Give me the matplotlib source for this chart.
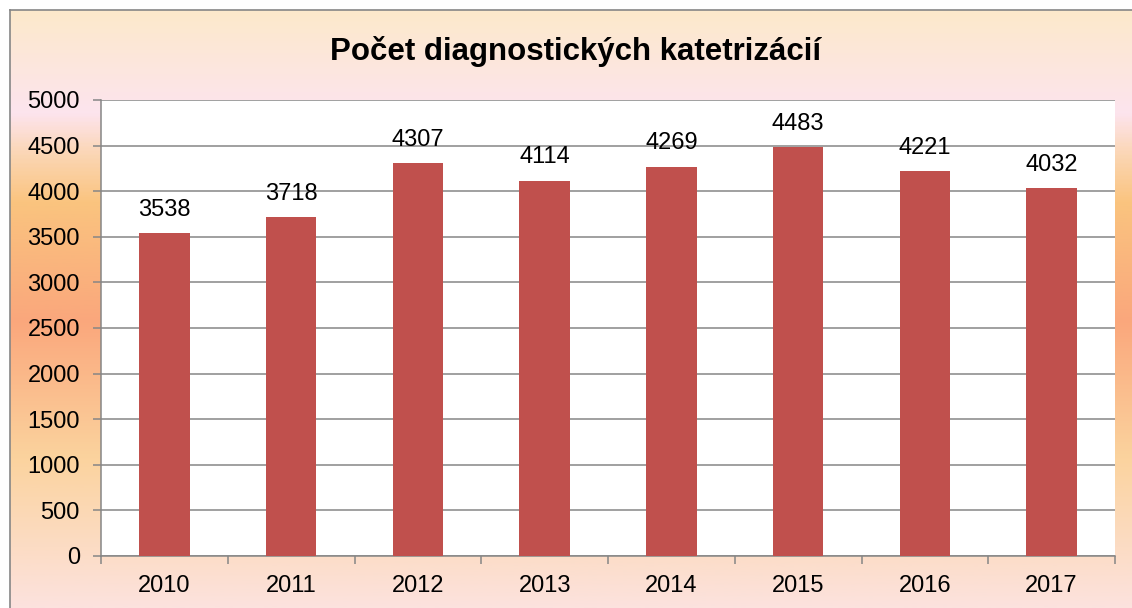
import numpy as np
import matplotlib.pyplot as plt
from matplotlib.colors import LinearSegmentedColormap

plt.rcParams['font.family'] = ['Liberation Sans', 'DejaVu Sans']

years = ['2010', '2011', '2012', '2013', '2014', '2015', '2016', '2017']
counts = [3538, 3718, 4307, 4114, 4269, 4483, 4221, 4032]
title = 'Počet diagnostických katetrizácií'

W, H = 1132, 608
fig = plt.figure(figsize=(W / 100, H / 100), dpi=100)

# gradient background of the chart area (it starts 10 px in from top/left)
bg = fig.add_axes([10 / W, 0, 1 - 10 / W, 1 - 10 / H])
bg.set_zorder(-10)
stops = [(0.00, '#fce9cb'), (0.17, '#fde4ee'), (0.24, '#fbd6b4'),
         (0.32, '#fac47f'), (0.52, '#faa77c'), (0.75, '#fbd39e'),
         (0.90, '#fcdcc4'), (1.00, '#fce2de')]
cmap = LinearSegmentedColormap.from_list('bg', stops)
bg.imshow(np.linspace(0, 1, 400).reshape(-1, 1), aspect='auto', cmap=cmap,
          extent=[0, 1, 0, 1], origin='upper')
bg.axis('off')

# thin gray border on top and left
fig.add_artist(plt.Line2D([10 / W, 1], [1 - 10 / H, 1 - 10 / H], color='#868686', lw=1.2))
fig.add_artist(plt.Line2D([10 / W, 10 / W], [0, 1 - 10 / H], color='#868686', lw=1.2))

ax = fig.add_axes([101 / W, 1 - 556 / H, (1115 - 101) / W, (556 - 100) / H])
ax.set_facecolor('white')
x = np.arange(len(years))
ax.bar(x, counts, width=0.4, color='#c0504d', zorder=3)

for xi, v in zip(x, counts):
    ax.annotate(str(v), (xi, v), xytext=(0, 12.5), textcoords='offset points',
                ha='center', va='baseline', fontsize=17)

ax.set_ylim(0, 5000)
ax.set_xlim(-0.5, len(years) - 0.5)
ax.set_yticks(range(0, 5001, 500))
ax.yaxis.grid(True, color='#868686', lw=1.1, zorder=0)
ax.set_axisbelow(True)

ax.set_xticks(x)
ax.set_xticklabels(years)
ax.set_xticks(np.arange(-0.5, len(years)), minor=True)
ax.tick_params(axis='x', which='major', length=0, pad=14, labelsize=17)
ax.tick_params(axis='x', which='minor', length=5.8, width=1.1, color='#868686', direction='out')
ax.tick_params(axis='y', length=5.8, width=1.1, color='#868686', pad=9.4, labelsize=17)

for s in ['top', 'right']:
    ax.spines[s].set_visible(False)
for s in ['left', 'bottom']:
    ax.spines[s].set_color('#868686')
    ax.spines[s].set_linewidth(1.1)

fig.text(576 / W, 1 - 60 / H, title, ha='center', va='baseline',
         fontsize=22.5, fontweight='bold')

fig.savefig('out.png', dpi=100)
